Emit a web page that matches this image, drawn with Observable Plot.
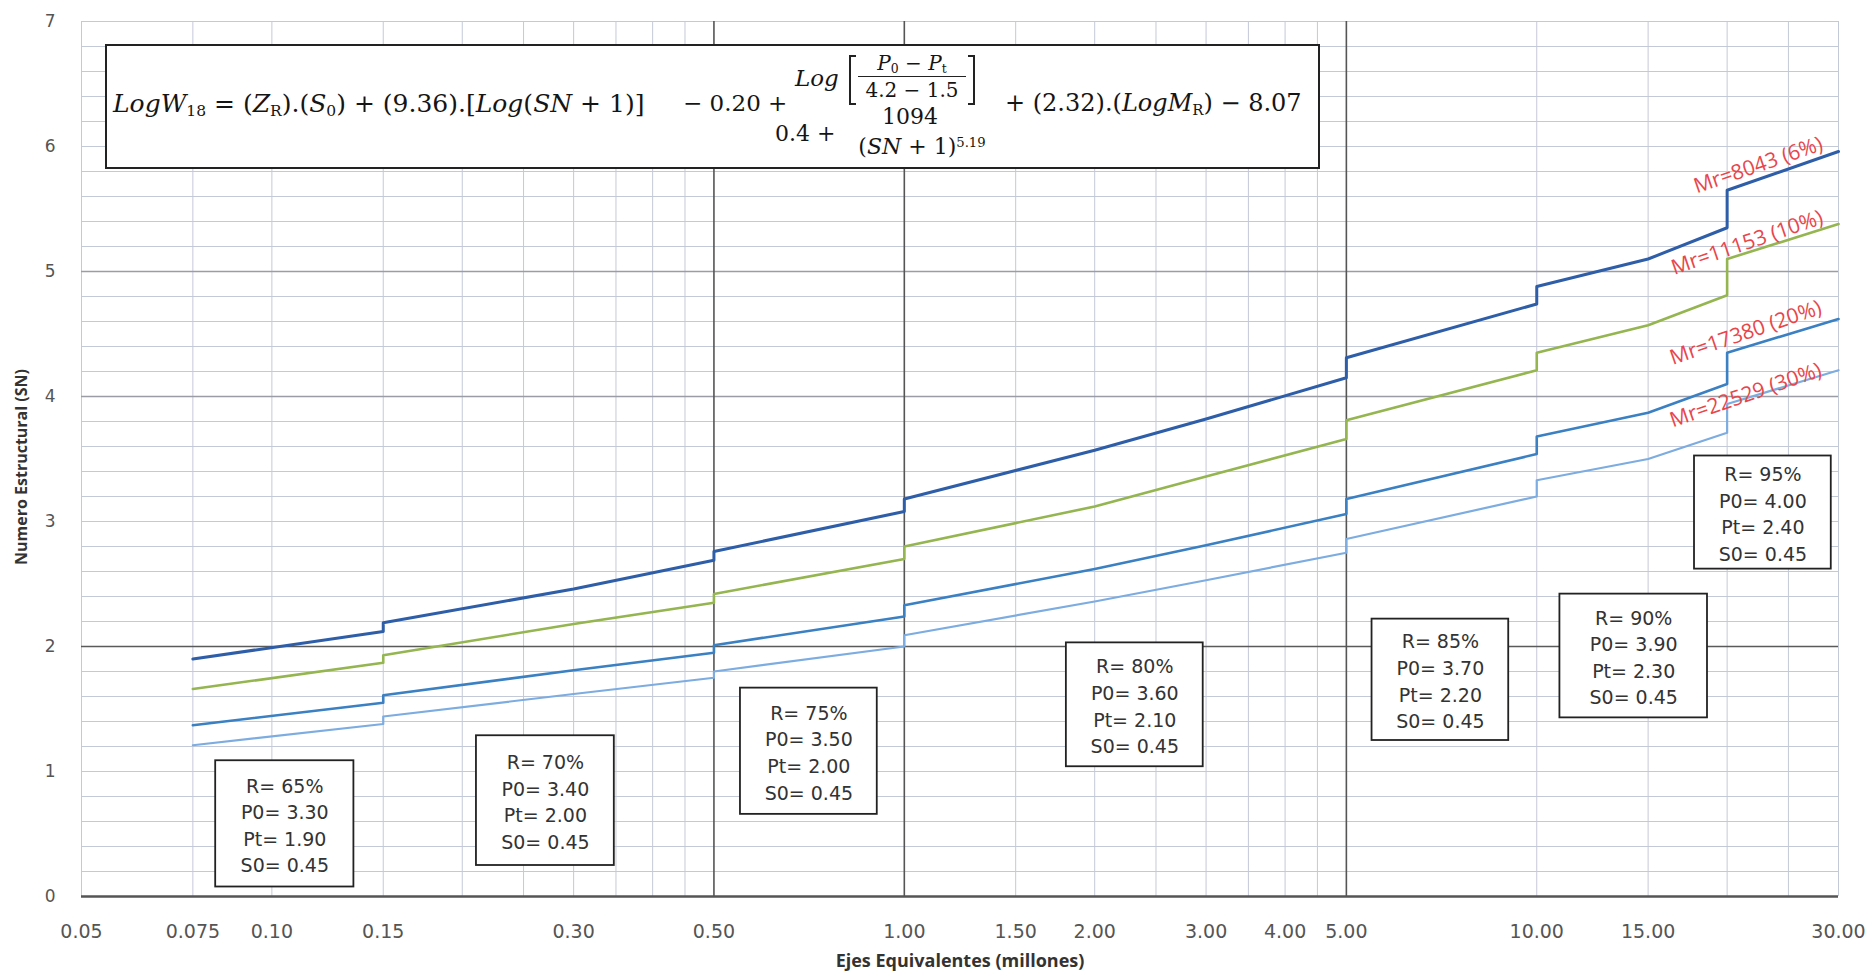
<!DOCTYPE html>
<html><head><meta charset="utf-8">
<script src="https://cdn.jsdelivr.net/npm/d3@7"></script>
<script src="https://cdn.jsdelivr.net/npm/@observablehq/plot@0.6"></script>
<style>
html,body{margin:0;padding:0;background:#fff;}
#wrap{position:relative;width:1865px;height:976px;overflow:hidden;}
#eq{position:absolute;left:105px;top:44px;width:1211px;height:121px;border:2px solid #222;background:#fff;font-family:"DejaVu Serif","Liberation Serif",serif;color:#151515;}
#eq .p{position:absolute;white-space:nowrap;line-height:1;}
#eq sub{font-size:0.62em;vertical-align:-0.25em;line-height:0;}
#eq sup{font-size:0.6em;vertical-align:0.55em;line-height:0;}
#eq .br{position:absolute;border:2px solid #222;width:5px;}
#eq .bar{position:absolute;height:0;border-top:1.5px solid #222;}
</style></head><body><div id="wrap"></div>
<script>
// ---- data ----
const xVals = [0.075, 0.15, 0.15, 0.3, 0.5, 0.5, 1, 1, 2, 3, 5, 5, 10, 10, 15, 20, 20, 30];
const sn8043  = [1.90, 2.12, 2.19, 2.46, 2.69, 2.76, 3.08, 3.18, 3.57, 3.82, 4.15, 4.31, 4.74, 4.88, 5.10, 5.35, 5.65, 5.96];
const sn11153 = [1.66, 1.87, 1.93, 2.18, 2.35, 2.42, 2.70, 2.80, 3.12, 3.36, 3.66, 3.81, 4.21, 4.35, 4.57, 4.81, 5.10, 5.38];
const sn17380 = [1.37, 1.55, 1.61, 1.81, 1.95, 2.01, 2.24, 2.33, 2.62, 2.81, 3.06, 3.18, 3.54, 3.68, 3.87, 4.10, 4.35, 4.62];
const sn22529 = [1.21, 1.38, 1.44, 1.62, 1.75, 1.80, 2.00, 2.09, 2.36, 2.53, 2.75, 2.86, 3.20, 3.33, 3.50, 3.71, 3.94, 4.21];
const seriesNames = ["Mr=8043 (6%)", "Mr=11153 (10%)", "Mr=17380 (20%)", "Mr=22529 (30%)"];
const seriesValues = [sn8043, sn11153, sn17380, sn22529];

const xTicks = [0.05, 0.075, 0.1, 0.15, 0.3, 0.5, 1, 1.5, 2, 3, 4, 5, 10, 15, 30];
const xTickLabels = ["0.05", "0.075", "0.10", "0.15", "0.30", "0.50", "1.00", "1.50", "2.00", "3.00", "4.00", "5.00", "10.00", "15.00", "30.00"];
const yTicks = [0, 1, 2, 3, 4, 5, 6, 7];
const yTickLabels = ["0", "1", "2", "3", "4", "5", "6", "7"];

const boxR  = ["65%", "70%", "75%", "80%", "85%", "90%", "95%"];
const boxP0 = ["3.30", "3.40", "3.50", "3.60", "3.70", "3.90", "4.00"];
const boxPt = ["1.90", "2.00", "2.00", "2.10", "2.20", "2.30", "2.40"];
const boxS0 = ["0.45", "0.45", "0.45", "0.45", "0.45", "0.45", "0.45"];

// ---- layout / style (not data) ----
const seriesColors = ["#2e5ea8", "#94b54f", "#3a80c2", "#7cace0"];
const seriesWidths = [3, 2.6, 2.6, 2.2];
const labelPos = [[22.4, 5.85], [21.5, 5.23], [21.4, 4.51], [21.4, 4.01]];
const boxPos = [
  [0.0815, 0.1348, 0.076, 1.086],
  [0.2106, 0.3479, 0.248, 1.286],
  [0.5507, 0.9062, 0.657, 1.667],
  [1.804, 2.969, 1.038, 2.029],
  [5.49, 9.03, 1.248, 2.219],
  [10.88, 18.62, 1.429, 2.419],
  [17.76, 29.22, 2.619, 3.524]
];
const xGridMinor = [0.05, 0.075, 0.1, 0.15, 0.2, 0.25, 0.3, 0.35, 0.4, 0.45, 1.5, 2, 2.5, 3, 3.5, 4, 4.5, 10, 15, 20, 25, 30];
const xGridMajor = [0.5, 1, 5];
const yGridMinor = d3.range(0.2, 7.01, 0.2);

const lines = seriesValues.map((vals, s) => vals.map((y, i) => ({x: xVals[i], y, s})));
const labels = seriesNames.map((t, i) => ({t, x: labelPos[i][0], y: labelPos[i][1]}));
const boxes = boxR.map((r, i) => ({
  x1: boxPos[i][0], x2: boxPos[i][1], y1: boxPos[i][2], y2: boxPos[i][3],
  text: `R= ${r}\nP0= ${boxP0[i]}\nPt= ${boxPt[i]}\nS0= ${boxS0[i]}`
}));
const xLabelMap = new Map(xTicks.map((v, i) => [v, xTickLabels[i]]));
const yLabelMap = new Map(yTicks.map((v, i) => [v, yTickLabels[i]]));

const chart = Plot.plot({
  width: 1865, height: 976,
  marginLeft: 81, marginRight: 27, marginTop: 21, marginBottom: 80,
  style: {fontFamily: "DejaVu Sans, Verdana, sans-serif", fontSize: "18px", color: "#555", background: "#fff"},
  x: {type: "log", domain: [0.05, 30]},
  y: {domain: [0, 7]},
  marks: [
    Plot.ruleY(yGridMinor, {stroke: "#c4c9d8", strokeWidth: 1}),
    Plot.ruleX(xGridMinor, {stroke: "#c4c9d8", strokeWidth: 1}),
    Plot.ruleY([4, 5], {stroke: "#9a9da6", strokeWidth: 1.3}),
    Plot.ruleY([2], {stroke: "#5a5a5a", strokeWidth: 1.6}),
    Plot.ruleX(xGridMajor, {stroke: "#555", strokeWidth: 1.6}),
    Plot.ruleY([0], {stroke: "#555", strokeWidth: 2.6}),
    ...lines.slice().reverse().map((rows, k) => {
      const s = lines.length - 1 - k;
      return Plot.line(rows, {x: "x", y: "y", stroke: seriesColors[s], strokeWidth: seriesWidths[s], curve: "linear"});
    }),
    Plot.rect(boxes, {x1: "x1", x2: "x2", y1: "y1", y2: "y2", fill: "#fff", stroke: "#222", strokeWidth: 1.8}),
    Plot.text(boxes, {x: d => Math.sqrt(d.x1 * d.x2), y: d => (d.y1 + d.y2) / 2, text: "text",
      lineHeight: 1.4, fontSize: 19, fill: "#333", fontFamily: "DejaVu Sans"}),
    Plot.text(labels, {x: "x", y: "y", text: "t", rotate: -19, fill: "#e8464b", fontSize: 21, fontFamily: "Open Sans"}),
    Plot.axisY(yTicks, {tickSize: 0, tickPadding: 26, fontSize: 17, tickFormat: d => yLabelMap.get(d), label: null}),
    Plot.axisX(xTicks, {tickSize: 0, tickPadding: 28, fontSize: 19, tickFormat: d => xLabelMap.get(d), label: null}),
    Plot.text(["Ejes Equivalentes (millones)"], {frameAnchor: "bottom", dy: 70, fontWeight: "bold", fontSize: 18, fill: "#333", fontFamily: "Open Sans"}),
    Plot.text(["Numero Estructural (SN)"], {frameAnchor: "left", textAnchor: "middle", dx: -60, dy: 8, rotate: -90, fontWeight: "bold", fontSize: 16, fill: "#333", fontFamily: "Open Sans"})
  ]
});
const wrap = document.getElementById("wrap");
wrap.appendChild(chart);

// ---- equation box (text overlay) ----
const eq = document.createElement("div");
eq.id = "eq";
const OX = 107, OY = 46;
function piece(html, x, cy, size, center) {
  const s = document.createElement("span");
  s.className = "p";
  s.innerHTML = html;
  s.style.fontSize = size + "px";
  s.style.left = (x - OX) + "px";
  s.style.top = (cy - OY - size / 2) + "px";
  if (center) s.style.transform = "translateX(-50%)";
  eq.appendChild(s);
}
function bracket(x, y1, y2, right) {
  const b = document.createElement("div");
  b.className = "br";
  b.style.left = (x - OX) + "px";
  b.style.top = (y1 - OY) + "px";
  b.style.height = (y2 - y1) + "px";
  if (right) b.style.borderLeft = "none"; else b.style.borderRight = "none";
  eq.appendChild(b);
}
function bar(x1, x2, y) {
  const b = document.createElement("div");
  b.className = "bar";
  b.style.left = (x1 - OX) + "px";
  b.style.width = (x2 - x1) + "px";
  b.style.top = (y - OY) + "px";
  eq.appendChild(b);
}
piece("<i>LogW</i><sub>18</sub> = (<i>Z</i><sub>R</sub>).(<i>S</i><sub>0</sub>) + (9.36).[<i>Log</i>(<i>SN</i> + 1)]", 113, 103, 25);
piece("− 0.20 +", 683, 103, 23);
piece("<i>Log</i>", 795, 78, 23);
bracket(849, 55, 101, false);
bracket(968, 55, 101, true);
piece("<i>P</i><sub>0</sub> − <i>P</i><sub>t</sub>", 912, 63, 20, true);
bar(858, 966, 76);
piece("4.2 − 1.5", 912, 90, 20, true);
piece("0.4 +", 775, 134, 22);
piece("1094", 910, 117, 22, true);
piece("(<i>SN</i> + 1)<sup>5.19</sup>", 922, 147, 22, true);
piece("+ (2.32).(<i>LogM</i><sub>R</sub>) − 8.07", 1005, 103, 24);
wrap.appendChild(eq);
</script>
</body></html>
